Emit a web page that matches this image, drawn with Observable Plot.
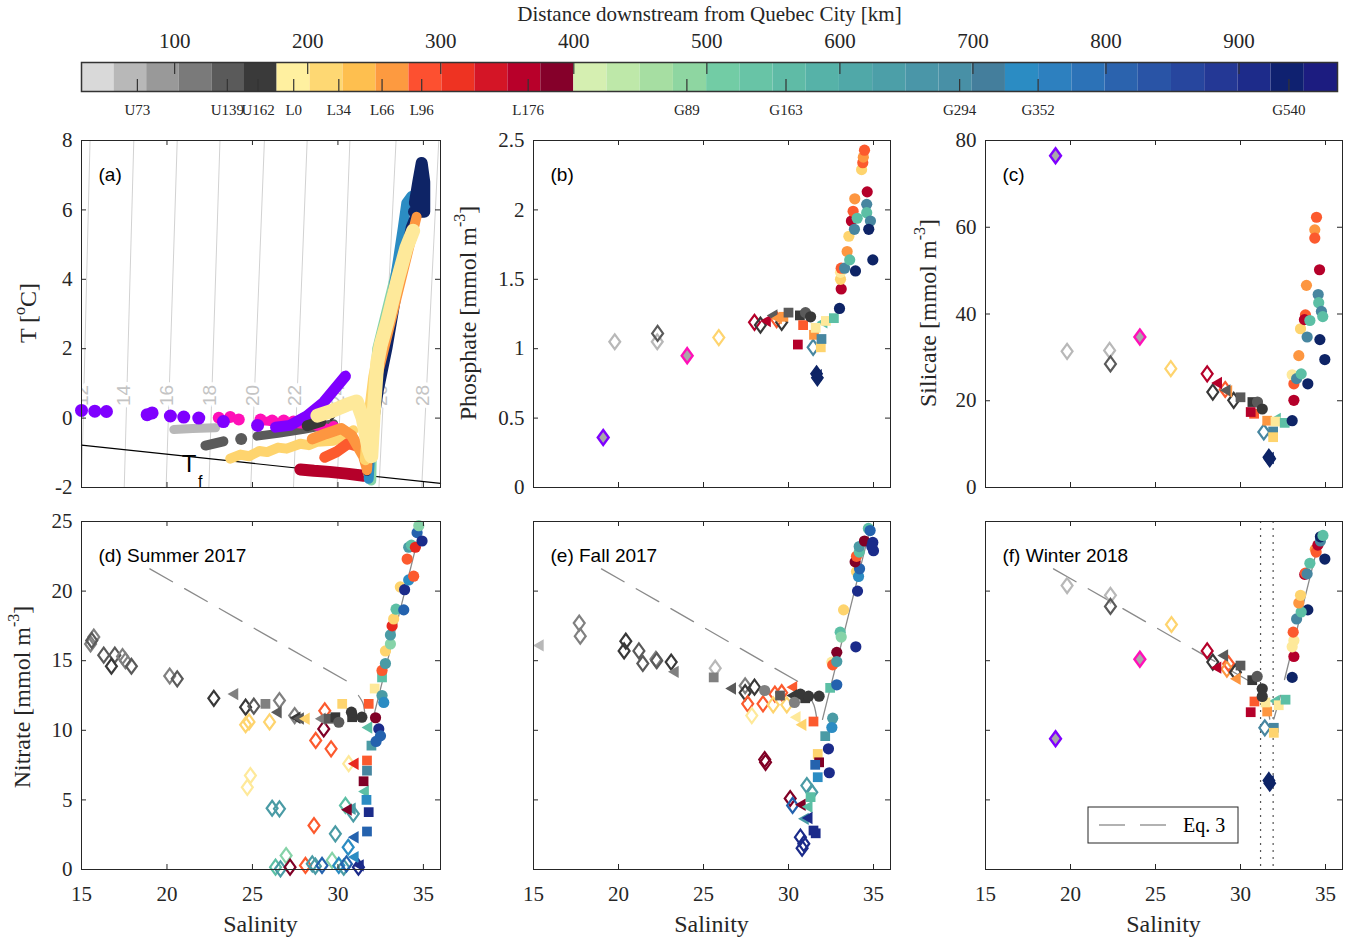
<!DOCTYPE html>
<html><head><meta charset="utf-8">
<script src="https://cdn.jsdelivr.net/npm/d3@7"></script>
<script src="https://cdn.jsdelivr.net/npm/@observablehq/plot@0.6"></script>
<style>
body{margin:0;background:#fff;}
#chart{position:relative;width:1351px;height:941px;background:#fff;overflow:hidden;}
#chart svg{position:absolute;background:transparent;}
</style></head><body>
<div id="chart"></div>
<script>
// ---------------- colour bar ----------------
const cbTitle = "Distance downstream from Quebec City [km]";
const cbTicks = [100,200,300,400,500,600,700,800,900];
const cbDomain = [30, 974];
const cbGrayRange = [30, 177];
const cbLRange = [177, 400];
const cbGRange = [400, 974];
const cbGrayColors = ["#d9d9d9","#b8b8b8","#999999","#7a7a7a","#5a5a5a","#3a3a3a"];
const cbLColors = ["#fff0a0","#fed873","#febf4f","#fd9a40","#fd5030","#ee3322","#d41526","#b8002a","#85002a"];
const cbGColors = ["#d5efb1","#bee8a9","#a6dea2","#8ed6a1","#72cca5","#68c4a6","#5fbba6","#56b2a8","#50a8a8","#4c9fa8","#4a96a8","#4890a6","#447e9c","#2b8cc3","#2d80bf","#2c72b7","#2b63ae","#2954a6","#27469e","#243895","#1d2b8a","#0f2170","#1c1c80"];
const stationNames = ["U73","U139","U162","L0","L34","L66","L96","L176","G89","G163","G294","G352","G540"];
const stationKm = [72,139.6,162.7,189.5,223.4,255.9,285.7,365.7,485,559.5,690,749,937.5];

// ---------------- marker colours ----------------
const COL = {
  g1:"#b8b8b8", g2:"#808080", g3:"#5a5a5a", g4:"#383838",
  pu:"#7f00ff", mg:"#ff10b8",
  y1:"#fee99a", y2:"#fed46e", o1:"#fd9640", o2:"#fc5a2e", r1:"#e8281e", r2:"#b5002a", r3:"#800026",
  t1:"#86d3a8", t2:"#5cbfa5", t3:"#4a9ba5", t4:"#4786a0", b1:"#2b8cc3", b2:"#2462ae", b3:"#1b2b8a", b4:"#0e2466"
};

// ---------------- panel (a): T-S ----------------
const isoSigma = [12,14,16,18,20,22,24,26,28];
const isoSBottom = [15.0,17.5,19.95,22.45,24.9,27.4,29.95,32.4,34.9];
const isoSTop = [15.5,18.06,20.6,23.1,25.7,28.2,30.7,33.4,35.9];
const isoSLabel = [15.05,17.5,20.0,22.5,25.0,27.5,30.0,32.5,35.0];
const isoLabelT = 0.65;
const tfS = [15, 36];
const tfT = [-0.78, -1.88];

const tsPurpleDots = [[15.0,0.22],[15.78,0.2],[16.46,0.19],[18.84,0.1],[19.13,0.15],[20.2,0.06],[20.98,0.03],[21.86,0.0],[23.3,-0.1],[25.3,-0.21]];
const tsMagentaDots = [[23.03,0.01],[23.7,0.03],[24.2,-0.04],[25.47,-0.04],[26.15,-0.07],[26.83,-0.07],[27.4,-0.1],[29.75,-0.26],[29.85,-0.33]];
const tsLightGray = [[20.4,-0.33],[21.5,-0.3],[22.84,-0.28]];
const tsDarkGrayA = [[22.25,-0.79],[23.3,-0.67]];
const tsDarkGrayDot = [[24.34,-0.6]];
const tsDarkGrayB = [[25.27,-0.52],[26.5,-0.44],[28.0,-0.32],[29.75,-0.16]];
const tsDarkThin = [[29.6,-0.05],[30.2,0.3],[30.9,0.45]];
const tsMagentaLine = [[25.6,-0.08],[26.6,-0.12],[28.5,-0.2],[29.9,-0.35]];
const tsPurpleLine = [[26.35,-0.26],[27.2,-0.21],[28.2,0.07],[29.17,0.46],[30.44,1.21]];
const tsBlack = [[28.2,-0.22],[29.0,-0.1]];
const tsDarkRed = [[27.8,-1.48],[28.6,-1.52],[29.5,-1.55],[30.5,-1.6],[31.5,-1.66]];
const tsRedOrange = [[29.23,-1.13],[29.9,-0.98],[30.6,-0.73],[31.4,-0.85],[31.9,-1.42]];
const tsOrange = [[28.5,-0.6],[29.3,-0.45],[30.2,-0.3],[30.8,-0.5],[31.5,-1.1],[31.8,-1.6]];
const tsYellowBand = [[23.7,-1.17],[24.3,-1.05],[24.8,-1.1],[25.4,-0.95],[25.86,-0.98],[26.5,-0.85],[27.0,-0.88],[27.8,-0.74],[28.3,-0.78],[28.8,-0.68],[29.75,-0.65],[30.5,-0.5],[30.9,-0.35]];
const tsGreenPlume = [[31.95,-1.8],[32.0,-0.5],[32.15,1.0],[32.3,2.0],[32.8,3.0],[33.3,4.0],[33.8,5.0],[34.1,5.6]];
const tsBluePlume = [[31.8,-1.75],[31.95,-0.5],[32.2,1.0],[32.5,2.0],[33.0,3.0],[33.4,4.2],[33.8,5.5],[34.0,6.2],[34.3,6.4]];
const tsNavyPlume = [[31.7,-1.55],[31.95,-0.8],[32.45,0.8],[32.95,2.0],[33.3,3.0],[33.7,4.2],[34.2,5.5],[34.6,6.0]];
const tsNavyTop = [[34.45,5.95],[35.05,5.95],[35.05,6.8],[34.9,7.35],[34.7,6.8],[34.5,6.2]];
const tsOrangePlume = [[31.7,-1.5],[31.85,-0.5],[32.3,1.2],[32.9,2.4],[33.5,3.6],[34.0,4.6],[34.5,5.6],[34.6,5.8]];
const tsYellowPlume = [[31.6,-1.2],[31.8,0.0],[32.1,1.2],[32.5,2.2],[33.1,3.3],[33.6,4.3],[34.3,5.2]];
const tsLightYellow = [[28.8,0.07],[29.6,0.2],[30.5,0.38],[31.1,0.48],[31.45,0.0],[31.8,-0.9],[31.95,-1.1],[32.1,0.2],[32.3,1.6],[32.5,2.1],[32.9,2.8],[33.5,4.0],[34.0,4.9],[34.4,5.4]];

// ---------------- panel (b): phosphate ----------------
const phosphate = [
 [19.1,0.36,"pu","f"],[19.78,1.05,"g1","d"],[22.28,1.05,"g1","d"],[22.3,1.11,"g3","d"],[24.04,0.95,"mg","f"],
 [25.9,1.08,"y2","d"],[28.0,1.19,"r2","d"],[28.35,1.17,"g4","d"],[29.3,1.21,"o2","d"],[29.6,1.19,"g4","d"],
 [31.45,1.01,"t4","d"],[31.65,0.82,"b4","D"],[31.7,0.79,"b4","D"],
 [28.75,1.2,"r2","t"],[29.14,1.24,"g3","t"],[29.4,1.22,"o1","t"],[32.08,1.19,"t2","t"],[31.75,0.81,"b4","t"],
 [29.7,1.23,"o1","s"],[30.0,1.26,"g3","s"],[30.67,1.24,"g4","s"],[30.86,1.17,"o2","s"],[30.55,1.03,"r2","s"],
 [31.5,1.1,"o1","s"],[31.6,1.15,"y1","s"],[31.9,1.01,"y2","s"],[31.94,1.07,"t4","s"],[32.2,1.2,"y1","s"],[32.67,1.22,"t2","s"],
 [31.0,1.26,"g3","c"],[31.3,1.23,"g4","c"],[33.0,1.29,"b4","c"],[33.1,1.43,"r2","c"],[33.06,1.5,"y2","c"],[33.06,1.55,"y1","c"],
 [33.1,1.58,"o2","c"],[33.3,1.58,"t4","c"],[33.94,1.56,"b4","c"],[33.45,1.7,"o1","c"],[33.6,1.64,"t2","c"],[33.55,1.81,"y2","c"],
 [33.7,1.92,"r2","c"],[33.8,1.99,"o2","c"],[33.9,2.08,"o1","c"],[34.04,1.94,"t2","c"],[33.88,1.86,"t4","c"],[34.63,2.13,"r2","c"],
 [34.6,2.04,"t4","c"],[34.6,1.98,"t2","c"],[34.82,1.92,"t4","c"],[34.72,1.86,"b4","c"],[34.96,1.64,"b4","c"],
 [34.3,2.29,"y2","c"],[34.37,2.34,"o2","c"],[34.4,2.38,"o1","c"],[34.47,2.43,"o2","c"]
];

// ---------------- panel (c): silicate ----------------
const silicate = [
 [19.12,76.5,"pu","f"],[19.8,31.4,"g1","d"],[22.3,31.6,"g1","d"],[22.35,28.5,"g3","d"],[24.08,34.7,"mg","f"],
 [25.9,27.4,"y2","d"],[28.04,26.2,"r2","d"],[28.37,22.0,"g4","d"],[29.1,22.6,"o2","d"],[29.6,20.1,"g4","d"],
 [31.37,12.8,"t4","d"],[31.67,7.0,"b4","D"],[31.72,6.6,"b4","D"],
 [28.7,24.1,"r2","t"],[29.3,22.2,"o1","t"],[29.2,22.4,"g3","t"],[32.16,15.8,"t2","t"],[31.75,6.8,"b4","t"],
 [30.0,20.8,"g3","s"],[30.7,19.7,"g4","s"],[30.8,17.0,"o2","s"],[30.6,17.4,"r2","s"],[31.57,15.4,"o1","s"],
 [32.06,15.2,"y1","s"],[32.6,14.9,"t2","s"],[31.92,12.9,"t4","s"],[31.92,11.6,"y2","s"],
 [31.0,19.7,"g3","c"],[31.28,18.1,"g4","c"],[33.04,15.4,"b4","c"],[33.14,20.1,"r2","c"],[33.14,23.9,"o2","c"],
 [33.04,26.0,"y1","c"],[33.3,25.1,"t4","c"],[33.57,26.2,"t2","c"],[33.96,23.9,"b4","c"],[33.43,30.4,"o1","c"],
 [33.53,36.6,"y2","c"],[33.92,34.7,"t4","c"],[33.82,39.8,"o2","c"],[33.76,38.7,"r2","c"],[34.08,38.5,"t2","c"],
 [33.88,46.6,"o1","c"],[34.67,34.1,"b4","c"],[34.96,29.5,"b4","c"],[34.57,44.5,"t4","c"],[34.6,42.6,"t2","c"],
 [34.76,40.6,"t4","c"],[34.84,39.4,"t2","c"],[34.65,50.2,"r2","c"],[34.47,62.3,"o2","c"],[34.37,59.4,"o1","c"],[34.37,57.5,"o2","c"]
];

// ---------------- panels (d)-(f): nitrate ----------------
const eqS = [19.0, 30.85];
const eqN = [21.6, 13.3];
const mixCurveD = [[31.2,12.5],[31.48,11.9],[31.57,11.18]];
const steepD = [[32.1,11.06],[34.73,24.0]];
const mixCurveE = [[31.18,12.5],[31.5,11.8],[31.67,10.78]];
const steepE = [[32.0,10.78],[34.7,24.0]];
const mixCurveF = [[30.98,12.98],[31.5,12.0],[31.72,10.8]];
const steepF1 = [[31.96,10.8],[32.35,12.5]];
const steepF2 = [[32.59,13.65],[34.7,24.0]];
const winterDotted = [31.18, 31.92];

const nitrateSummer = [
 [15.72,16.7,"g2","d"],[15.53,16.2,"g2","d"],[15.6,16.45,"g3","d"],[16.3,15.4,"g3","d"],[16.95,15.4,"g3","d"],
 [16.75,14.6,"g4","d"],[17.4,15.3,"g2","d"],[17.57,15.0,"g2","d"],[17.92,14.6,"g3","d"],[20.16,13.9,"g2","d"],
 [20.6,13.7,"g3","d"],[22.74,12.3,"g4","d"],[24.6,11.66,"g4","d"],[25.08,11.73,"g3","d"],[26.58,12.14,"g2","d"],[27.47,11.06,"g2","d"],
 [24.6,10.4,"y2","d"],[24.8,10.6,"y2","d"],[26.0,10.6,"y2","d"],[24.88,6.75,"y1","d"],[24.7,5.9,"y1","d"],[30.63,7.6,"y1","d"],
 [29.23,11.4,"o2","d"],[28.7,9.27,"o2","d"],[29.6,8.67,"o2","d"],[28.6,3.16,"o2","d"],[29.17,10.1,"r3","d"],
 [30.44,4.6,"t2","d"],[30.9,4.0,"t3","d"],[26.15,4.4,"t3","d"],[26.58,4.36,"t3","d"],[29.85,2.56,"t3","d"],[30.6,1.6,"b1","d"],
 [26.35,0.17,"t2","d"],[26.64,0.05,"t3","d"],[26.97,1.0,"t1","d"],[27.2,0.17,"r3","d"],[28.1,0.29,"o2","d"],[28.5,0.41,"t3","d"],
 [28.68,0.24,"t3","d"],[29.07,0.29,"b2","d"],[29.66,0.65,"t1","d"],[30.05,0.29,"b1","d"],[30.34,0.17,"t3","d"],[30.5,0.4,"b2","d"],[31.2,0.17,"b3","d"],
 [23.96,12.6,"g2","t"],[26.5,11.3,"g3","t"],[27.6,10.9,"g4","t"],[27.8,10.85,"g3","t"],[28.14,10.83,"y2","t"],[29.07,10.83,"g2","t"],
 [31.0,7.6,"r1","t"],[31.6,5.6,"t2","t"],[30.83,4.36,"t3","t"],[30.6,4.3,"r3","t"],[31.0,2.32,"b2","t"],[31.0,0.89,"b1","t"],[31.3,0.3,"b3","t"],[31.8,10.2,"t2","t"],
 [25.76,11.9,"g2","s"],[29.46,10.83,"g3","s"],[29.85,10.94,"g4","s"],[30.25,11.9,"y2","s"],[30.83,10.94,"g4","s"],
 [31.7,7.83,"o2","s"],[31.7,7.1,"t4","s"],[31.5,6.34,"r3","s"],[31.67,5.0,"b1","s"],[31.8,4.12,"b3","s"],[31.7,2.73,"b2","s"],
 [31.96,8.9,"t3","s"],[31.8,11.9,"o2","s"],[32.15,13.0,"y1","s"],[32.58,13.8,"t2","s"],
 [30.05,10.58,"g3","c"],[30.79,11.3,"g4","c"],[31.4,10.94,"g4","c"],[32.2,10.9,"r3","c"],[32.39,10.1,"b3","c"],[32.49,9.6,"b2","c"],
 [32.23,9.2,"b2","c"],[32.58,12.5,"t3","c"],[32.68,12.0,"b1","c"],[32.58,14.3,"o2","c"],[32.78,14.8,"t3","c"],[32.78,15.7,"y2","c"],
 [33.07,16.2,"t1","c"],[33.07,16.85,"t3","c"],[33.17,17.5,"r1","c"],[33.26,18.0,"y2","c"],[33.4,18.7,"t2","c"],[33.85,18.65,"b2","c"],
 [33.65,20.3,"y2","c"],[33.9,20.1,"b3","c"],[34.14,20.8,"b1","c"],[34.43,21.07,"o2","c"],[34.05,22.3,"o2","c"],[34.14,23.15,"t3","c"],
 [34.3,23.3,"t2","c"],[34.53,23.15,"r1","c"],[34.63,24.2,"b2","c"],[34.92,23.6,"b3","c"],[34.73,24.7,"t1","c"]
];

const nitrateFall = [
 [17.69,17.7,"g2","d"],[17.75,16.76,"g2","d"],[20.43,16.4,"g4","d"],[20.33,15.7,"g4","d"],[21.2,15.7,"g3","d"],[21.43,14.8,"g3","d"],
 [22.2,15.1,"g2","d"],[22.25,15.0,"g3","d"],[23.1,14.9,"g4","d"],[25.69,14.46,"g1","d"],[27.45,13.2,"g2","d"],[27.45,12.7,"g4","d"],[28.0,13.1,"g4","d"],
 [27.6,11.9,"o2","d"],[28.5,11.9,"o2","d"],[29.2,12.6,"o2","d"],[29.6,12.7,"o2","d"],[27.84,11.06,"y1","d"],[29.1,11.83,"y2","d"],[29.9,11.83,"y2","d"],
 [28.6,7.9,"r3","d"],[28.65,7.7,"r3","d"],[31.08,6.03,"t3","d"],[31.37,5.55,"t3","d"],[30.1,5.1,"r3","d"],[30.24,4.6,"b2","d"],
 [30.7,2.32,"b3","d"],[30.9,1.85,"b3","d"],[30.8,1.53,"b3","d"],
 [15.39,16.1,"g1","t"],[23.33,14.2,"g2","t"],[26.7,13.0,"g3","t"],[30.3,13.1,"o2","t"],[30.3,12.5,"g4","t"],[30.5,10.94,"y1","t"],[30.84,10.4,"y2","t"],
 [30.8,4.65,"r3","t"],[31.2,4.5,"t2","t"],[30.98,3.64,"t3","t"],[31.2,3.7,"b3","t"],
 [25.6,13.8,"g2","s"],[29.5,12.5,"g3","s"],[30.98,12.3,"g4","s"],[31.47,10.63,"o2","s"],[32.45,13.05,"t2","s"],[32.16,9.58,"t3","s"],
 [31.72,8.3,"y2","s"],[31.8,7.7,"r3","s"],[31.57,7.52,"b2","s"],[31.72,6.63,"b1","s"],[31.3,5.2,"t2","s"],[31.47,2.8,"b3","s"],[31.6,2.6,"b3","s"],
 [28.6,12.86,"g2","c"],[30.7,12.6,"g4","c"],[31.18,12.45,"g4","c"],[31.8,12.45,"g4","c"],[30.35,12.0,"g2","c"],
 [32.84,13.27,"b2","c"],[32.6,10.87,"t3","c"],[32.55,10.2,"b1","c"],[32.35,8.67,"b3","c"],[32.4,6.95,"b3","c"],
 [32.84,15.6,"r3","c"],[32.55,14.9,"y1","c"],[32.6,14.7,"o2","c"],[32.84,14.94,"t3","c"],[33.04,17.05,"t2","c"],[33.1,16.7,"t1","c"],
 [33.96,16.0,"b3","c"],[33.24,18.65,"y2","c"],[34.06,20.0,"b3","c"],[34.0,21.4,"y2","c"],[34.12,21.05,"b1","c"],[34.18,21.6,"b2","c"],
 [33.92,22.1,"r3","c"],[34.0,22.5,"o2","c"],[34.16,22.8,"t2","c"],[34.16,23.2,"t3","c"],[34.47,23.6,"r3","c"],[34.7,24.5,"t2","c"],
 [34.8,24.35,"b2","c"],[34.96,23.5,"b3","c"],[35.0,22.9,"b3","c"],[34.9,23.2,"b3","c"]
];

const nitrateWinter = [
 [19.12,9.4,"pu","f"],[24.08,15.1,"mg","f"],
 [19.8,20.4,"g1","d"],[22.35,19.7,"g1","d"],[22.35,18.9,"g3","d"],[25.94,17.6,"y2","d"],[28.04,15.7,"r2","d"],[28.37,14.9,"g4","d"],
 [29.3,14.78,"o2","d"],[29.2,14.4,"o1","d"],[29.7,14.17,"g4","d"],[31.43,10.18,"t4","d"],
 [31.67,6.4,"b4","D"],[31.72,6.2,"b4","D"],
 [28.66,14.5,"r2","t"],[29.06,15.37,"g3","t"],[29.8,13.7,"o1","t"],[32.1,12.1,"t2","t"],[31.75,6.35,"b4","t"],
 [30.0,14.65,"g3","s"],[30.69,13.6,"g4","s"],[30.82,12.07,"o2","s"],[30.6,11.3,"r2","s"],[31.57,11.35,"o1","s"],
 [31.47,12.0,"y1","s"],[32.25,11.8,"y1","s"],[32.65,12.2,"t2","s"],[31.96,10.18,"t4","s"],[31.96,9.82,"y2","s"],
 [30.98,13.87,"g3","c"],[31.28,12.98,"g4","c"],[31.28,12.43,"g4","c"],[33.04,13.8,"b4","c"],[33.14,15.3,"r2","c"],
 [33.04,16.0,"y1","c"],[33.14,16.45,"y1","c"],[33.1,17.05,"o2","c"],[33.3,18.0,"t4","c"],[33.96,18.65,"b4","c"],
 [33.57,18.5,"t2","c"],[33.43,19.15,"o1","c"],[33.53,19.7,"y2","c"],[33.78,21.2,"r2","c"],[33.82,21.3,"o2","c"],
 [33.92,21.24,"t4","c"],[34.08,22.0,"t2","c"],[34.4,23.0,"o1","c"],[34.45,22.8,"o2","c"],[34.55,23.3,"r2","c"],
 [34.7,23.6,"t4","c"],[34.7,23.9,"b4","c"],[34.85,24.0,"t2","c"],[34.96,22.3,"b4","c"]
];

// ---------------- axes ticks ----------------
const xTicks = [15,20,25,30,35];
const xDomain = [15,36];
const tTicks = [-2,0,2,4,6,8];
const pTicks = [0,0.5,1,1.5,2,2.5];
const siTicks = [0,20,40,60,80];
const nTicks = [0,5,10,15,20,25];

// ---------------- helpers ----------------
const AX = "#262626";
const SERIF = "Liberation Serif, Times New Roman, serif";
const SANS = "Liberation Sans, Arial, sans-serif";
const chart = document.getElementById("chart");

const diamondSym = {draw(ctx, size){ const h = Math.sqrt(size/0.365)/2, w = h*0.73; ctx.moveTo(0,-h); ctx.lineTo(w,0); ctx.lineTo(0,h); ctx.lineTo(-w,0); ctx.closePath(); }};
const triLeftSym = {draw(ctx, size){ const s = Math.sqrt(size/0.433), t = s*0.866; ctx.moveTo(-t*2/3,0); ctx.lineTo(t/3,-s/2); ctx.lineTo(t/3,s/2); ctx.closePath(); }};
const squareSym = {draw(ctx, size){ const a = Math.sqrt(size)/2; ctx.rect(-a,-a,2*a,2*a); }};

function scatter(rows){
  const sub = m => rows.filter(r => r[3] === m);
  const X = r => r[0], Y = r => r[1], C = r => COL[r[2]];
  return [
    Plot.dot(sub("d"), {x:X, y:Y, symbol:diamondSym, r:5.1, fill:"none", stroke:C, strokeWidth:2.2}),
    Plot.dot(sub("f"), {x:X, y:Y, symbol:diamondSym, r:5.1, fill:"#a8a8a8", stroke:C, strokeWidth:2.4}),
    Plot.dot(sub("D"), {x:X, y:Y, symbol:diamondSym, r:5.3, fill:C, stroke:C, strokeWidth:1.5}),
    Plot.dot(sub("t"), {x:X, y:Y, symbol:triLeftSym, r:4.6, fill:C, stroke:"none"}),
    Plot.dot(sub("s"), {x:X, y:Y, symbol:squareSym, r:5.5, fill:C, stroke:"none"}),
    Plot.dot(sub("c"), {x:X, y:Y, symbol:"circle", r:5.6, fill:C, stroke:"none"})
  ];
}

function panel({x0,x1,y0,y1,yDomain,yTicks,yLabels,xLabels,label,marks}){
  const ml=80, mr=12, mt=10, mb = xLabels ? 72 : 10;
  const w = x1-x0, h = y1-y0;
  const extra = [
    Plot.ruleX(xTicks, {x:d=>d, insetTop:h-5, stroke:AX}),
    Plot.ruleX(xTicks, {x:d=>d, insetBottom:h-5, stroke:AX}),
    Plot.ruleY(yTicks, {y:d=>d, insetRight:w-5, stroke:AX}),
    Plot.ruleY(yTicks, {y:d=>d, insetLeft:w-5, stroke:AX}),
    Plot.frame({stroke:AX, strokeWidth:1}),
    Plot.text([label], {frameAnchor:"top-left", dx:17, dy:34, textAnchor:"start", lineAnchor:"middle", fontFamily:SANS, fontSize:19, fill:"#000"})
  ];
  if (yLabels) extra.push(Plot.text(yTicks, {y:d=>d, text:d=>String(d), frameAnchor:"left", dx:-9, textAnchor:"end", lineAnchor:"middle", fontFamily:SERIF, fontSize:21, fill:AX}));
  if (xLabels) extra.push(Plot.text(xTicks, {x:d=>d, text:d=>String(d), frameAnchor:"bottom", dy:25, lineAnchor:"middle", fontFamily:SERIF, fontSize:21, fill:AX}));
  const svg = Plot.plot({
    width:w+ml+mr, height:h+mt+mb, marginLeft:ml, marginRight:mr, marginTop:mt, marginBottom:mb,
    x:{domain:xDomain, axis:null}, y:{domain:yDomain, axis:null},
    style:{fontFamily:SERIF, fontSize:"21px", background:"transparent", overflow:"visible"},
    marks:[...marks, ...extra]
  });
  svg.style.left = (x0-ml)+"px"; svg.style.top = (y0-mt)+"px";
  svg._ox = x0-ml; svg._oy = y0-mt;
  chart.appendChild(svg);
  if (xLabels) addText(svg, (x0+x1)/2, 924, [["Salinity"]], false);
  return svg;
}

function addText(svg, ax, ay, parts, rotate){
  const t = d3.select(svg).append("text")
    .attr("transform", `translate(${ax-svg._ox},${ay-svg._oy})` + (rotate ? " rotate(-90)" : ""))
    .attr("text-anchor","middle").attr("dominant-baseline","central")
    .attr("font-family",SERIF).attr("font-size",24).attr("fill",AX);
  parts.forEach(([s, sup]) => {
    const ts = t.append("tspan").text(s);
    if (sup) ts.attr("font-size",16).attr("dy",-9);
    else if (t.node().childNodes.length > 1) ts.attr("dy",9);
  });
  return t;
}

// ---------------- colour bar ----------------
function blocks(range, colors){ const [a,b] = range, n = colors.length; return colors.map((c,i)=>({x1:a+(b-a)*i/n, x2:a+(b-a)*(i+1)/n, c})); }
const cbBlocks = [...blocks(cbGrayRange,cbGrayColors), ...blocks(cbLRange,cbLColors), ...blocks(cbGRange,cbGColors)];
const cb = Plot.plot({
  width:1351, height:125, marginLeft:81, marginRight:14, marginTop:62, marginBottom:34,
  x:{domain:cbDomain, axis:null},
  style:{fontFamily:SERIF, background:"transparent", overflow:"visible"},
  marks:[
    Plot.rect(cbBlocks, {x1:"x1", x2:"x2", fill:"c"}),
    Plot.ruleX(cbTicks, {x:d=>d, insetBottom:17, stroke:"#333", strokeWidth:1.2}),
    Plot.ruleX(stationKm, {x:d=>d, insetTop:17, stroke:"#333", strokeWidth:1.2}),
    Plot.frame({stroke:"#333", strokeWidth:1.5}),
    Plot.text(cbTicks, {x:d=>d, text:d=>String(d), frameAnchor:"top", dy:-21, lineAnchor:"middle", fontFamily:SERIF, fontSize:21, fill:AX}),
    Plot.text(stationNames, {x:(d,i)=>stationKm[i], text:d=>d, frameAnchor:"bottom", dy:19, lineAnchor:"middle", fontFamily:SERIF, fontSize:15, fill:AX}),
    Plot.text([cbTitle], {frameAnchor:"top", dy:-48, lineAnchor:"middle", fontFamily:SERIF, fontSize:21, fill:AX})
  ]
});
cb.style.left="0px"; cb.style.top="0px";
chart.appendChild(cb);

// ---------------- panel (a) ----------------
const thick = (data, col, w=10) => Plot.line(data, {x:d=>d[0], y:d=>d[1], stroke:COL[col] || col, strokeWidth:w, strokeLinecap:"round", strokeLinejoin:"round"});
const svgA = panel({x0:81,x1:440,y0:140,y1:487,yDomain:[-2,8],yTicks:tTicks,yLabels:true,xLabels:false,label:"(a)",marks:[
  Plot.link(isoSigma, {x1:(d,i)=>isoSBottom[i], y1:-2, x2:(d,i)=>isoSTop[i], y2:8, stroke:"#d2d2d2", strokeWidth:1, clip:true}),
  Plot.text(isoSigma, {x:(d,i)=>isoSLabel[i], y:isoLabelT, text:d=>String(d), rotate:-90, fill:"#c4c4c4", stroke:"white", strokeWidth:7, paintOrder:"stroke", fontFamily:SANS, fontSize:19, clip:true}),
  Plot.line(tfS.map((s,i)=>[s,tfT[i]]), {x:d=>d[0], y:d=>d[1], stroke:"#000", strokeWidth:1.2}),
  Plot.text(["T"], {x:21.3, y:-1.32, fontFamily:SANS, fontSize:24, fill:"#000"}),
  Plot.text(["f"], {x:21.95, y:-1.85, fontFamily:SANS, fontSize:16, fill:"#000"}),
  thick(tsLightGray, "g1", 9),
  thick(tsDarkGrayA, "g3", 10),
  Plot.dot(tsDarkGrayDot, {x:d=>d[0], y:d=>d[1], r:6, fill:COL.g3}),
  thick(tsDarkGrayB, "g3", 9),
  thick(tsDarkThin, "g4", 2.5),
  thick(tsMagentaLine, "mg", 9),
  Plot.dot(tsMagentaDots, {x:d=>d[0], y:d=>d[1], r:6, fill:COL.mg}),
  Plot.dot(tsPurpleDots, {x:d=>d[0], y:d=>d[1], r:6.5, fill:COL.pu}),
  thick(tsPurpleLine, "pu", 11),
  thick(tsBlack, "g4", 11),
  thick(tsDarkRed, "r2", 12),
  thick(tsYellowBand, "y2", 10),
  thick(tsRedOrange, "o2", 11),
  thick(tsOrange, "o1", 11),
  thick(tsGreenPlume, "t1", 10),
  thick(tsBluePlume, "b1", 10),
  thick(tsNavyPlume, "b4", 8),
  thick(tsNavyTop, "b4", 12),
  thick(tsOrangePlume, "o1", 10),
  thick(tsYellowPlume, "y2", 11),
  thick(tsLightYellow, "y1", 14)
]});
addText(svgA, 28, 313, [["T ["],["o",true],["C]"]], true);

// ---------------- panel (b) ----------------
const svgB = panel({x0:533,x1:890,y0:140,y1:487,yDomain:[0,2.5],yTicks:pTicks,yLabels:true,xLabels:false,label:"(b)",marks:scatter(phosphate)});
addText(svgB, 468, 313, [["Phosphate [mmol m"],["-3",true],["]"]], true);

// ---------------- panel (c) ----------------
const svgC = panel({x0:985,x1:1342,y0:140,y1:487,yDomain:[0,80],yTicks:siTicks,yLabels:true,xLabels:false,label:"(c)",marks:scatter(silicate)});
addText(svgC, 928, 313, [["Silicate [mmol m"],["-3",true],["]"]], true);

// ---------------- nitrate panels ----------------
const eqLine = eqS.map((s,i)=>[s,eqN[i]]);
const thin = (data, extra={}) => Plot.line(data, {x:d=>d[0], y:d=>d[1], stroke:"#8a8a8a", strokeWidth:1.3, ...extra});
const svgD = panel({x0:81,x1:440,y0:521,y1:869,yDomain:[0,25],yTicks:nTicks,yLabels:true,xLabels:true,label:"(d) Summer 2017",marks:[
  thin(eqLine, {strokeDasharray:"26,14"}), thin(mixCurveD, {curve:"natural"}), thin(steepD), ...scatter(nitrateSummer)
]});
addText(svgD, 22, 697, [["Nitrate [mmol m"],["-3",true],["]"]], true);

panel({x0:533,x1:890,y0:521,y1:869,yDomain:[0,25],yTicks:nTicks,yLabels:false,xLabels:true,label:"(e) Fall 2017",marks:[
  thin(eqLine, {strokeDasharray:"26,14"}), thin(mixCurveE, {curve:"natural"}), thin(steepE), ...scatter(nitrateFall)
]});

const svgF = panel({x0:985,x1:1342,y0:521,y1:869,yDomain:[0,25],yTicks:nTicks,yLabels:false,xLabels:true,label:"(f) Winter 2018",marks:[
  Plot.ruleX(winterDotted, {x:d=>d, stroke:"#555", strokeWidth:1.2, strokeDasharray:"2,5"}),
  thin(eqLine, {strokeDasharray:"26,14"}), thin(mixCurveF, {curve:"natural"}), thin(steepF1), thin(steepF2), ...scatter(nitrateWinter)
]});
// legend box for Eq. 3
{
  const g = d3.select(svgF).append("g").attr("transform", `translate(${1088-svgF._ox},${807-svgF._oy})`);
  g.append("rect").attr("width",150).attr("height",36).attr("fill","white").attr("stroke",AX).attr("stroke-width",1);
  g.append("line").attr("x1",11).attr("x2",78).attr("y1",18).attr("y2",18).attr("stroke","#999").attr("stroke-width",1.3).attr("stroke-dasharray","26,15");
  g.append("text").attr("x",95).attr("y",18).attr("text-anchor","start").attr("dominant-baseline","central").attr("font-family",SERIF).attr("font-size",20).attr("fill","#000").text("Eq. 3");
}
</script>
</body></html>
